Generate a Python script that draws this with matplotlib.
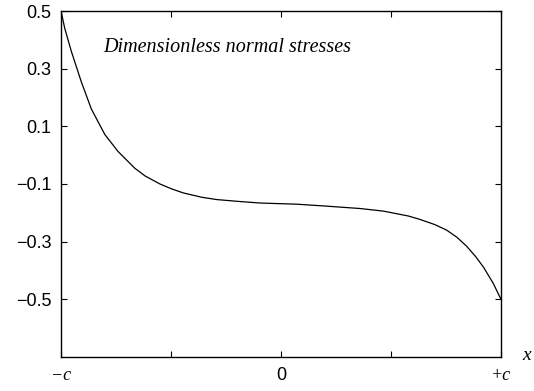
import matplotlib.pyplot as plt

# Data (x normalised so that -c = -1, +c = +1)
x_pos = [-1.0, -0.983, -0.953, -0.908, -0.862, -0.801, -0.741, -0.665, -0.618,
         -0.55, -0.497, -0.444, -0.36, -0.292, -0.2, -0.095, 0.071, 0.192,
         0.359, 0.465, 0.579, 0.632, 0.70, 0.753, 0.80, 0.844, 0.885, 0.92,
         0.965, 1.0]
stress = [0.5, 0.44, 0.36, 0.255, 0.160, 0.072, 0.013, -0.045, -0.072,
          -0.100, -0.117, -0.131, -0.146, -0.154, -0.160, -0.166, -0.170, -0.176,
          -0.185, -0.194, -0.211, -0.223, -0.241, -0.260, -0.285, -0.316, -0.352, -0.388,
          -0.445, -0.5]
y_ticks = [0.5, 0.3, 0.1, -0.1, -0.3, -0.5]
x_ticks = [-1, -0.5, 0, 0.5, 1]
x_ticklabels = ['\u2212c', '', '0', '', '+c']

fig = plt.figure(figsize=(5.34, 3.91), dpi=100)
ax = fig.add_axes([61 / 534, 34 / 391, 440 / 534, 346 / 391])

ax.plot(x_pos, stress, color='black', lw=0.9)

ax.set_xlim(-1, 1)
ax.set_ylim(-0.7, 0.5)
ax.set_yticks(y_ticks)
ax.set_yticklabels([f'{v:.1f}'.replace('-', '\u2212') for v in y_ticks],
                   family='Liberation Sans', fontsize=13)
ax.set_xticks(x_ticks)
ax.set_xticklabels(x_ticklabels, fontsize=13)

# mixed fonts on x tick labels: italic serif for c, sans for 0
for lab in ax.get_xticklabels():
    if 'c' in lab.get_text():
        lab.set_family('Liberation Serif')
        lab.set_style('italic')
    else:
        lab.set_family('Liberation Sans')

ax.tick_params(direction='in', length=4, width=0.8, top=True, right=True,
               pad=7, colors='black')

for s in ax.spines.values():
    s.set_linewidth(1.0)
    s.set_color('black')

ax.text(0.097, 0.895, 'Dimensionless normal stresses', transform=ax.transAxes,
        family='Liberation Serif', style='italic', fontsize=14.5, va='center')

fig.text(527 / 534, 1 - 355 / 391, 'x', family='Liberation Serif', style='italic',
         fontsize=14, ha='center', va='center')

plt.savefig('out.png', dpi=100)
